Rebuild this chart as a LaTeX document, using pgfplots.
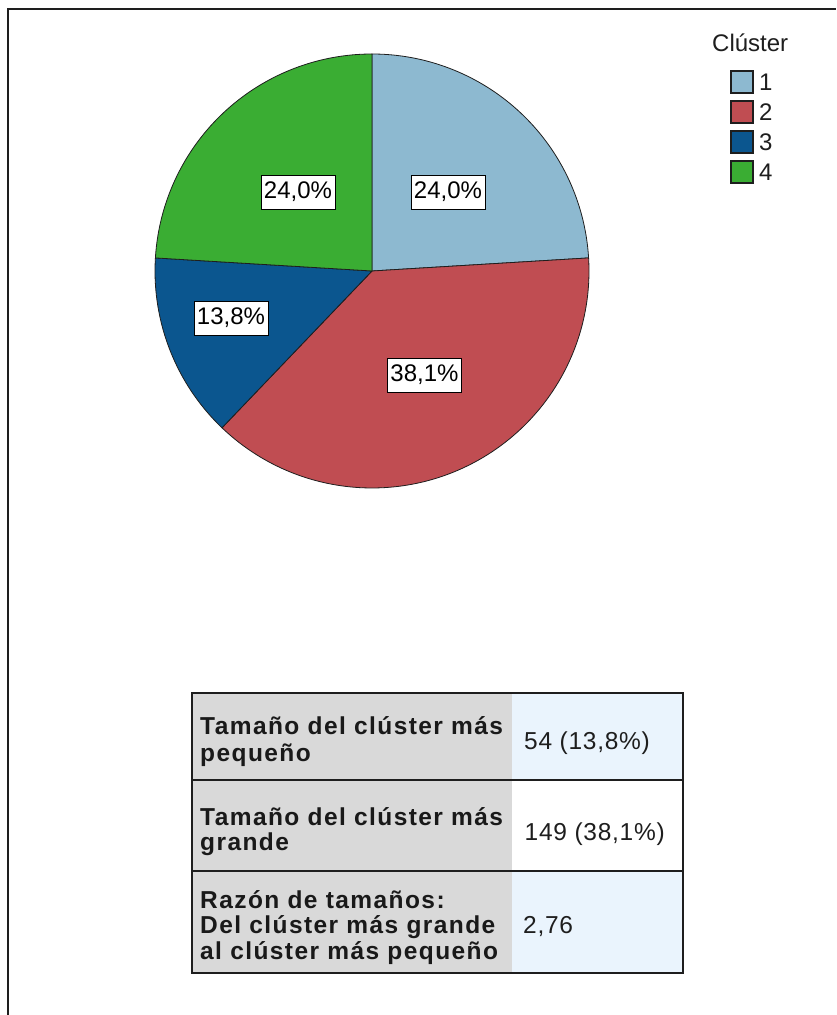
\documentclass[border=0pt]{standalone}
\usepackage{fontspec}
\setmainfont{Liberation Sans}
\newfontfamily\tabfont{Liberation Sans}[LetterSpace=5.8]
\newfontfamily\valfont{Liberation Sans}[LetterSpace=3]
\usepackage{pgfplots}
\pgfplotsset{compat=1.18}
\definecolor{cA}{RGB}{141,185,208}
\definecolor{cB}{RGB}{192,77,82}
\definecolor{cC}{RGB}{11,86,143}
\definecolor{cD}{RGB}{58,173,51}
\definecolor{grayc}{RGB}{217,217,217}
\definecolor{bluec}{RGB}{234,244,253}
\definecolor{edge}{RGB}{30,30,30}
\begin{document}
\begin{tikzpicture}[x=1pt,y=1pt]
\useasboundingbox (0,0) rectangle (836,1015);
\fill[white] (0,0) rectangle (836,1015);
\draw[edge, line width=2pt] (8,0) -- (8,1006) -- (836,1006);
% cluster sizes (counts)
\def\nA{94}\def\nB{149}\def\nC{54}\def\nD{94}
\pgfmathsetmacro\tot{\nA+\nB+\nC+\nD}
\pgfmathsetmacro\aA{90}
\pgfmathsetmacro\aB{\aA-\nA/\tot*360}
\pgfmathsetmacro\aC{\aB-\nB/\tot*360}
\pgfmathsetmacro\aD{\aC-\nC/\tot*360}
\pgfmathsetmacro\aE{\aD-\nD/\tot*360}
\begin{axis}[at={(372pt,744pt)}, anchor=origin, x=217pt, y=217pt,
  xmin=-1, xmax=1, ymin=-1, ymax=1, hide axis, clip=false,
  samples=120, variable=\t,
  every axis plot/.append style={draw=edge, line width=0.8pt, line join=round}]
\addplot[fill=cA, domain=\aB:\aA] ({cos(\t)},{sin(\t)}) -- (axis cs:0,0) -- cycle;
\addplot[fill=cB, domain=\aC:\aB] ({cos(\t)},{sin(\t)}) -- (axis cs:0,0) -- cycle;
\addplot[fill=cC, domain=\aD:\aC] ({cos(\t)},{sin(\t)}) -- (axis cs:0,0) -- cycle;
\addplot[fill=cD, domain=\aE:\aD] ({cos(\t)},{sin(\t)}) -- (axis cs:0,0) -- cycle;
\tikzset{lbl/.style={draw=black, line width=0.8pt, fill=white, inner sep=0pt,
  minimum width=74pt, minimum height=34pt, font=\fontsize{24}{28}\selectfont}}
\node[lbl] at (axis cs:0.350,0.364) {24,0\%};
\node[lbl] at (axis cs:0.242,-0.479) {38,1\%};
\node[lbl] at (axis cs:-0.650,-0.217) {13,8\%};
\node[lbl] at (axis cs:-0.341,0.364) {24,0\%};
\end{axis}
% legend
\node[anchor=base west, inner sep=0pt, text=edge, font=\fontsize{24}{28}\selectfont] at (712,963) {Clúster};
\foreach \yt/\c/\l in {945/cA/1, 915/cB/2, 885/cC/3, 855/cD/4}{
  \filldraw[fill=\c, draw=edge, line width=1.5pt] (731,\yt-23) rectangle (753,\yt-1);
  \node[anchor=base west, inner sep=0pt, text=edge, font=\fontsize{24}{28}\selectfont] at (759,\yt-21) {\l};
}
% table
\fill[grayc] (192,42) rectangle (512,322);
\fill[bluec] (512,235) rectangle (683,322);
\fill[white] (512,144) rectangle (683,235);
\fill[bluec] (512,42) rectangle (683,144);
\draw[edge, line width=2pt] (192,42) rectangle (683,322);
\draw[edge, line width=2pt] (192,235) -- (683,235);
\draw[edge, line width=2pt] (192,144) -- (683,144);
\tikzset{tb/.style={anchor=base west, inner sep=0pt, text=black!90, font={\tabfont\bfseries\fontsize{24.5}{28}\selectfont}},
         tv/.style={anchor=base west, inner sep=0pt, text=edge, font={\valfont\fontsize{24.5}{28}\selectfont}}}
\node[tb] at (200,280) {Tamaño del clúster más};
\node[tb] at (200,253.3) {pequeño};
\node[tv] at (524,265) {54 (13,8\%)};
\node[tb] at (200,189.3) {Tamaño del clúster más};
\node[tb] at (200,164.3) {grande};
\node[tv] at (524.5,174.3) {149 (38,1\%)};
\node[tb] at (200,106.7) {Razón de tamaños:};
\node[tb] at (200,81.7) {Del clúster más grande};
\node[tb] at (200,55.7) {al clúster más pequeño};
\node[tv] at (523,81.7) {2,76};
\end{tikzpicture}
\end{document}
